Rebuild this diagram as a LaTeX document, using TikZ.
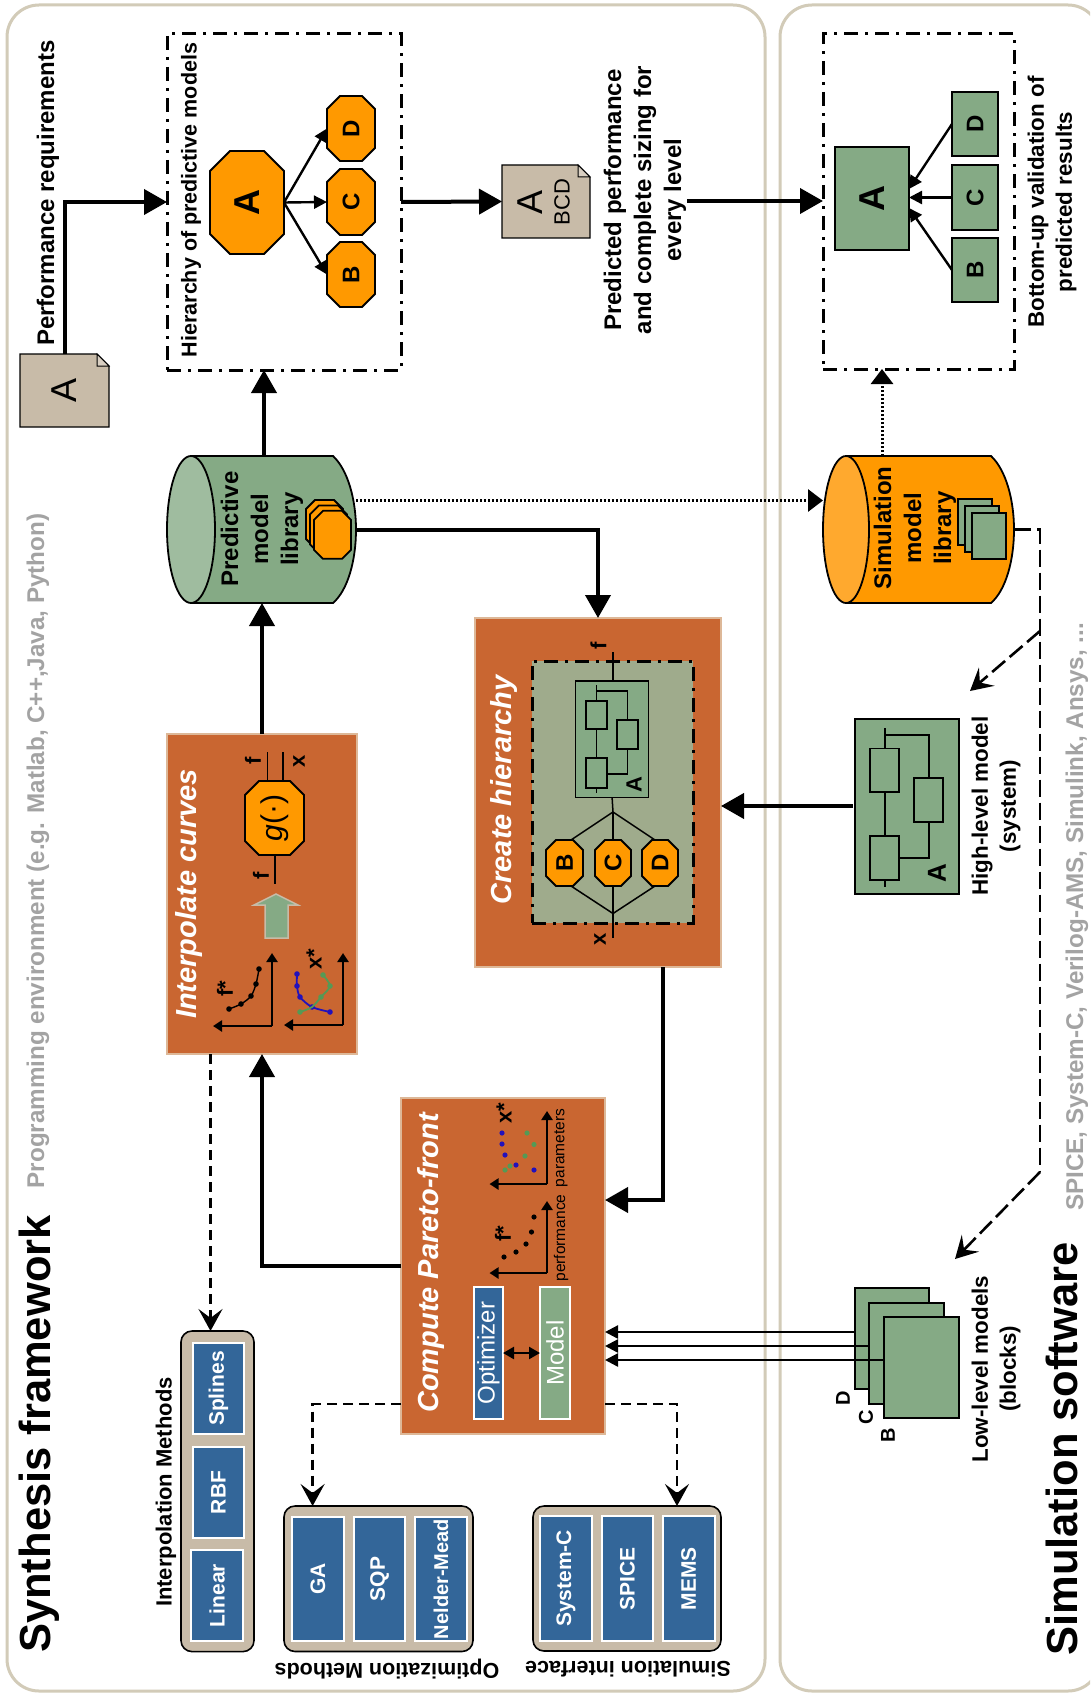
\documentclass[tikz,border=0pt]{standalone}
\usepackage{fontspec}
\setmainfont{Liberation Sans}
\usetikzlibrary{arrows.meta,calc}
\definecolor{panelc}{HTML}{D2CBB8}
\definecolor{tanc}{HTML}{C8BBA8}
\definecolor{orangec}{HTML}{FF9900}
\definecolor{orangecap}{HTML}{FFA92E}
\definecolor{greenc}{HTML}{85AA85}
\definecolor{greencap}{HTML}{9FBC9F}
\definecolor{rustc}{HTML}{C96631}
\definecolor{rustb}{HTML}{DDB898}
\definecolor{bluec}{HTML}{336699}
\definecolor{innerc}{HTML}{9FAB8C}
\definecolor{greyt}{HTML}{A3A3A3}
\definecolor{dotblue}{HTML}{2211BB}
\definecolor{dotgreen}{HTML}{559955}
\newcommand{\sz}[1]{\pgfmathsetmacro\myblk{#1*1.25}\fontsize{#1}{\myblk}\selectfont}
\newcommand{\rt}[1]{\rotatebox{90}{#1}}
\newcommand{\bx}[7]{%
  \pgfmathsetmacro\myw{#4-#2}\pgfmathsetmacro\myh{#5-#3}%
  \node[#6,minimum width=\myw pt,minimum height=\myh pt,inner sep=0pt,outer sep=0pt] (#1) at ({(#2+#4)/2},{(#3+#5)/2}) {#7};}
% octagon: name x1 y1 x2 y2 cut font text
\newcommand{\octa}[8]{%
  \pgfmathsetmacro\xa{#2+#6}\pgfmathsetmacro\xb{#4-#6}\pgfmathsetmacro\ya{#3+#6}\pgfmathsetmacro\yb{#5-#6}%
  \draw[octline] (\xa,#3)--(\xb,#3)--(#4,\ya)--(#4,\yb)--(\xb,#5)--(\xa,#5)--(#2,\yb)--(#2,\ya)--cycle;
  \bx{#1}{#2}{#3}{#4}{#5}{font=#7}{\rt{#8}}}
% document: name x1 y1 x2 y2 text
\newcommand{\docu}[6]{%
  \pgfmathsetmacro\xa{#4-12}\pgfmathsetmacro\ya{#3+12}%
  \draw[docline] (#2,#3)--(\xa,#3)--(#4,\ya)--(#4,#5)--(#2,#5)--cycle;
  \draw[line width=1pt,fill=tanc!70!white] (\xa,#3)--(\xa,\ya)--(#4,\ya)--cycle;
  \bx{#1}{#2}{#3}{#4}{#5}{}{#6}}
\tikzset{
  x=1pt,y=-1pt,
  octline/.style={draw=black,line width=1.8pt,fill=orangec},
  docline/.style={draw=black,line width=1.2pt,fill=tanc},
  panel/.style={draw=panelc,line width=3pt,rounded corners=32pt},
  dashbox/.style={draw=black,line width=3pt,dash pattern=on 14pt off 7pt on 3pt off 7pt},
  heavy/.style={line width=4pt,-{Triangle[length=23pt,width=25pt]}},
  thinar/.style={line width=2.4pt,-{Triangle[length=13pt,width=13pt]}},
  dashar/.style={line width=2.8pt,dash pattern=on 10pt off 6pt,-{Stealth[length=22pt,width=24pt,inset=9pt]}},
  simdash/.style={line width=2.6pt,dash pattern=on 17pt off 6pt,-{Stealth[length=22pt,width=24pt,inset=9pt]}},
  dotar/.style={line width=3pt,dash pattern=on 2pt off 2pt,-{Triangle[length=15pt,width=22pt]}},
  rust/.style={draw=rustb,line width=2pt,fill=rustc},
  grn/.style={draw=black,line width=1.8pt,fill=greenc},
  wire/.style={line width=1.5pt},
  vt/.style={rotate=90,inner sep=0pt,align=center},
  vb/.style={vt,font=\sz{22}\bfseries},
  head/.style={vt,text=white,font=\sz{29}\bfseries\itshape},
  title/.style={vt,font=\sz{43.5}\bfseries},
  greyl/.style={vt,text=greyt,font=\sz{24.2}\bfseries},
  method/.style={draw=white,line width=2pt,fill=bluec,text=white,font=\sz{21}\bfseries},
  group/.style={draw=black,line width=1.6pt,fill=tanc,rounded corners=11pt},
  axis/.style={line width=2.8pt,-{Triangle[length=9pt,width=11pt]}},
  sm/.style={vt,font=\sz{20}\bfseries},
}
\begin{document}
\begin{tikzpicture}
\useasboundingbox (0,0) rectangle (1090,1693);
\fill[white] (0,0) rectangle (1090,1693);
\clip (0,0) rectangle (1090,1693);
% panels
\draw[panel] (7,5) rectangle (765,1691);
\draw[panel] (780,5) rectangle (1100,1691);
% titles
\node[title] (tsyn) at (39,1434) {Synthesis framework};
\node[title] (tsim) at (1062,1449) {Simulation software};
\node[greyl] (tprog) at (38,851) {Programming environment (e.g. Matlab, C++,Java, Python)};
\node[greyl] (tspice) at (1077,917) {SPICE, System-C, Verilog-AMS, Simulink, Ansys, ...};
% hierarchy of predictive models
\docu{docA}{20}{354}{109}{427}{\rt{\sz{36}A}}
\node[vb,font=\sz{24}\bfseries] (lperf) at (48,193) {Performance requirements};
\bx{hier}{167}{34}{401}{370}{dashbox}{}
\node[vb,font=\sz{21.5}\bfseries] (lhier) at (191,200) {Hierarchy of predictive models};
\octa{oA}{210}{151}{284}{254}{20}{\sz{36}\bfseries}{A}
\octa{oD}{327}{96}{375}{161}{13}{\sz{24}\bfseries}{D}
\octa{oC}{327}{169}{375}{235}{13}{\sz{24}\bfseries}{C}
\octa{oB}{327}{242}{375}{307}{13}{\sz{24}\bfseries}{B}
\draw[thinar] (oA.east) -- (oD.west);
\draw[thinar] (oA.east) -- (oC.west);
\draw[thinar] (oA.east) -- (oB.west);
\docu{docB}{502}{165}{590}{238}{}
\node[vt,font=\sz{36}] (docBa) at (530,202) {A};
\node[vt,font=\sz{22}] (docBb) at (562,202) {BCD};
\draw[heavy] (docA.north) |- (hier.west);
\draw[heavy] (hier.east) -- (docB.west);
\node[vb,font=\sz{24}\bfseries] (lpred) at (645,200) {Predicted performance\\and complete sizing for\\every level};
% bottom-up box
\bx{valb}{823}{34}{1014}{369}{dashbox}{}
\bx{vA}{835}{147}{909}{250}{grn}{\rt{\sz{36}\bfseries A}}
\bx{vD}{952}{92}{998}{156}{grn}{\rt{\sz{24}\bfseries D}}
\bx{vC}{952}{165}{998}{230}{grn}{\rt{\sz{24}\bfseries C}}
\bx{vB}{952}{238}{998}{302}{grn}{\rt{\sz{24}\bfseries B}}
\draw[thinar] (vD.west) -- (909,189);
\draw[thinar] (vC.west) -- (vA.east |- vC.west);
\draw[thinar] (vB.west) -- (909,208);
\coordinate (pj) at (687,201);
\draw[heavy] (pj) -- (valb.west |- pj);
\node[vb,font=\sz{22.4}\bfseries] (lval) at (1052,202) {Bottom-up validation of\\predicted results};
% predictive library
\draw[draw=black,line width=1.8pt,fill=greenc] (191,456)--(333,456) .. controls (348,470) and (356,500) .. (356,529.5) .. controls (356,560) and (348,590) .. (333,603)--(191,603)--cycle;
\draw[draw=black,line width=1.8pt,fill=greencap] (191,529.5) ellipse [x radius=24,y radius=73.5];
\bx{plib}{167}{456}{356}{603}{}{}
\node[vt,font=\sz{24}\bfseries] (ptxt) at (262,529) {Predictive\\model\\library};
\foreach \d in {0,4,8}{
  \pgfmathsetmacro\ox{306+\d}\pgfmathsetmacro\oy{500+\d*1.35}
  \begin{scope}[shift={(\ox,\oy)}]
  \draw[octline] (9,0)--(28,0)--(37,9)--(37,39)--(28,48)--(9,48)--(0,39)--(0,9)--cycle;
  \end{scope}}
% simulation library
\draw[draw=black,line width=1.8pt,fill=orangec] (846,456)--(991,456) .. controls (1006,470) and (1014,500) .. (1014,529.5) .. controls (1014,560) and (1006,590) .. (991,603)--(846,603)--cycle;
\draw[draw=black,line width=1.8pt,fill=orangecap] (846,529.5) ellipse [x radius=23,y radius=73.5];
\bx{slib}{823}{456}{1014}{603}{}{}
\node[vt,font=\sz{24}\bfseries] (stxt) at (915,528) {Simulation\\model\\library};
\foreach \d in {0,7,14}{
  \pgfmathsetmacro\ox{958+\d}\pgfmathsetmacro\oy{499+\d}
  \draw[grn] (\ox,\oy) rectangle ++(34,46);}
\draw[heavy] ([xshift=2.5pt]plib.north) -- (hier.south -| 264,0);
\coordinate (sl1) at (882,456);
\draw[dotar] (sl1) -- (sl1 |- valb.south);
\draw[dotar] (plib.east |- 0,500.5) -- (slib.west |- 0,500.5);
% interpolate curves
\bx{interp}{167}{734}{357}{1054}{rust}{}
\node[head] (hint) at (189,894) {Interpolate curves};
\draw[heavy] (interp.north) -- (plib.south -| interp.north);
\node[vb] (lif) at (253,761) {f};
\node[vb] (lix) at (299,761) {x};
\octa{og}{245}{781}{304}{855}{14}{\sz{30}}{{\itshape g}(·)}
\draw[wire] (267.5,752) -- (267.5,781);
\draw[wire] (283,752) -- (283,781);
\draw[wire] (275,855) -- (275,884);
\node[vb] (lif2) at (261,876) {f};
\draw[draw=tanc,line width=1.5pt,fill=greenc] (276,894)--(298,905)--(288,905)--(288,938)--(265,938)--(265,905)--(254,905)--cycle;
\draw[axis] (272,1026) -- (272,953);
\draw[axis] (272,1026) -- (213,1026);
\draw[line width=1.4pt] plot[smooth] coordinates {(229,1009)(241,1004)(251,996)(256,984)(259,969)};
\foreach \p in {(229,1009),(241,1004),(251,996),(256,984),(259,969)} \fill \p circle (2.8);
\node[vb] (lifs) at (225,989) {f*};
\draw[axis] (343,1025) -- (343,953);
\draw[axis] (343,1025) -- (284,1025);
\draw[line width=1.8pt,dotblue] plot[smooth] coordinates {(297,974)(297,986)(300,997)(312,1007)(330,1012)};
\foreach \p in {(297,974),(297,986),(300,997),(312,1007),(330,1012)} \fill[dotblue] \p circle (2.8);
\draw[line width=1.8pt,dotgreen] plot[smooth] coordinates {(323,975)(330,986)(321,997)(312,1007)(300,1012)};
\foreach \p in {(323,975),(330,986),(321,997),(300,1012)} \fill[dotgreen] \p circle (2.8);
\node[vb] (lixs) at (314,959) {x*};
% create hierarchy
\bx{create}{475}{618}{721}{967}{rust}{}
\node[head] (hcre) at (504,790) {Create hierarchy};
\bx{cinner}{532}{661}{693}{923}{dashbox,fill=innerc}{}
\node[vb] (lcf) at (598.5,646) {f};
\node[vb] (lcx) at (600,939) {x};
\bx{cA}{575.6}{681}{648.6}{797.5}{draw=black,line width=1.6pt,fill=greenc}{}
\draw[wire] (596.6,685) -- (596.6,793);
\draw[wire] (596.6,691) -- (627.6,691) -- (627.6,720);
\draw[wire] (627.6,749) -- (627.6,774) -- (607,774);
\bx{cb1}{586}{701}{607}{729}{draw=black,line width=1.4pt,fill=greenc}{}
\bx{cb2}{586}{758}{607}{788}{draw=black,line width=1.4pt,fill=greenc}{}
\bx{cb3}{617}{720}{638}{749}{draw=black,line width=1.4pt,fill=greenc}{}
\node[vb] (lcA) at (634,785) {A};
\coordinate (cf) at (613,652);
\draw[wire] (cf) -- (cA.north -| cf);
\coordinate (dt) at (613,812);
\coordinate (db) at (613,913.5);
\coordinate (dx) at (613,937.5);
\draw[wire] (cA.south) -- (dt);
\draw[wire] (db) -- (dx);
\octa{cB}{546}{840}{583}{886}{10}{\sz{24}\bfseries}{B}
\octa{cC}{595}{840}{631}{886}{10}{\sz{24}\bfseries}{C}
\octa{cD}{642}{840}{678}{886}{10}{\sz{24}\bfseries}{D}
\draw[wire] (dt) -- (571,840);
\draw[wire] (dt) -- (cC.north);
\draw[wire] (dt) -- (655,840);
\draw[wire] (571,886) -- (db);
\draw[wire] (cC.south) -- (db);
\draw[wire] (655,886) -- (db);
\draw[heavy] (plib.east) -- (create.north |- plib.east) -- (create.north);
% pareto
\bx{pareto}{401}{1098}{605}{1434}{rust}{}
\node[head] (hpar) at (431,1263) {Compute Pareto-front};
\bx{opt}{474}{1287}{503}{1419}{draw=white,line width=1.5pt,fill=bluec,text=white,font=\sz{24}}{\rt{Optimizer}}
\bx{mod}{540}{1287}{570}{1419}{draw=white,line width=1.5pt,fill=greenc,text=white,font=\sz{24}}{\rt{Model}}
\draw[line width=2.4pt,{Triangle[length=11pt,width=12pt]}-{Triangle[length=11pt,width=12pt]}] (opt.east |- 0,1353) -- (mod.west |- 0,1353);
\draw[axis] (547,1273) -- (547,1201);
\draw[axis] (547,1273) -- (489.5,1273);
\foreach \p in {(504,1257),(516,1252),(526,1244),(531.5,1232),(534,1217)} \fill \p circle (2.6);
\node[vb] (lpfs) at (503,1234) {f*};
\node[vt,font=\sz{15.5}] (lperfm) at (561,1238) {performance};
\draw[axis] (547,1184) -- (547,1111);
\draw[axis] (547,1184) -- (489.5,1184);
\foreach \p in {(502,1133),(502,1144),(505,1155),(516,1165),(534,1170)} \fill[dotblue] \p circle (2.6);
\foreach \p in {(527,1133),(534,1144.5),(525,1156),(510,1166),(505,1170)} \fill[dotgreen] \p circle (2.6);
\node[vb] (lpxs) at (504,1113) {x*};
\node[vt,font=\sz{15.5}] (lparm) at (561,1148) {parameters};
\coordinate (cp) at (663,1200);
\draw[heavy] (create.south -| cp) -- (cp) -- (pareto.east |- cp);
\draw[heavy] (pareto.west |- 0,1266) -- (interp.south |- 0,1266) -- (interp.south);
% interpolation methods
\bx{gint}{181}{1331}{254}{1651.6}{group}{}
\bx{mspl}{193}{1343}{244}{1434}{method}{\rt{Splines}}
\bx{mrbf}{193}{1447}{244}{1538}{method}{\rt{RBF}}
\bx{mlin}{191}{1550}{243}{1641}{method}{\rt{Linear}}
\node[vb,font=\sz{22}\bfseries] (lgint) at (166,1492) {Interpolation Methods};
\coordinate (di) at (210.5,1054);
\draw[dashar] (di) -- (gint.north -| di);
% optimization methods
\bx{gopt}{284}{1506}{473}{1651.5}{group}{}
\bx{mga}{292}{1517}{344}{1641}{method}{\rt{GA}}
\bx{msqp}{354}{1517}{405}{1641}{method}{\rt{SQP}}
\bx{mnm}{415}{1517}{467}{1641}{method,font=\sz{20}\bfseries}{\rt{Nelder-Mead}}
\node[inner sep=0pt,rotate=180,font=\sz{21.5}\bfseries] (lgopt) at (387,1669) {Optimization Methods};
\coordinate (dg) at (312.6,1404);
\draw[dashar] (pareto.west |- dg) -- (dg) -- (gopt.north -| dg);
% simulation interface
\bx{gsim}{533}{1506}{721}{1651}{group}{}
\bx{msys}{540}{1516}{592}{1641}{method}{\rt{System-C}}
\bx{mspi}{601.6}{1516}{653}{1641}{method}{\rt{SPICE}}
\bx{mmem}{663}{1516}{714.5}{1641}{method}{\rt{MEMS}}
\node[inner sep=0pt,rotate=180,font=\sz{21.5}\bfseries] (lgsim) at (628,1669) {Simulation interface};
\coordinate (ds) at (677,1404);
\draw[dashar] (pareto.east |- ds) -- (ds) -- (gsim.north -| ds);
% high-level model
\bx{hl}{855}{719}{959}{894}{grn}{}
\draw[wire] (885,728) -- (885,887);
\draw[wire] (885,735) -- (929,735) -- (929,778);
\draw[wire] (929,822) -- (929,858) -- (899,858);
\bx{hb1}{870}{748.5}{899}{792}{draw=black,line width=1.4pt,fill=greenc}{}
\bx{hb2}{870}{836}{899}{880}{draw=black,line width=1.4pt,fill=greenc}{}
\bx{hb3}{914}{778}{943}{822}{draw=black,line width=1.4pt,fill=greenc}{}
\node[vb,font=\sz{26}\bfseries] (lhA) at (937,873) {A};
\node[vb,font=\sz{22.4}\bfseries] (lhl) at (996,806) {High-level model\\(system)};
\draw[heavy] ([xshift=-2pt]hl.west |- 0,806) -- (create.east |- 0,806);
% low-level models
\bx{lld}{855}{1288}{929}{1389}{grn}{}
\bx{llc}{869}{1303}{944}{1404}{grn}{}
\bx{llb}{884}{1317}{959}{1418}{grn}{}
\node[sm] (lld2) at (843,1398) {D};
\node[sm] (llc2) at (866,1417) {C};
\node[sm] (llb2) at (888,1435) {B};
\node[vb,font=\sz{22.4}\bfseries] (lll) at (996,1369) {Low-level models\\(blocks)};
\draw[thinar] (lld.west |- 0,1332) -- (pareto.east |- 0,1332);
\draw[thinar] (llc.west |- 0,1346) -- (pareto.east |- 0,1346);
\draw[thinar] (llb.west |- 0,1360) -- (pareto.east |- 0,1360);
% dashed simulation links
\coordinate (sa) at (1040,529.5);
\coordinate (sb) at (1040,1172);
\draw[line width=2.6pt,dash pattern=on 17pt off 6pt] (slib.east) -- (sa) -- (sb);
\coordinate (sc) at (1040,631);
\coordinate (hltip) at (970,691);
\coordinate (lltip) at (955,1259);
\draw[simdash] (sc) -- (hltip);
\draw[simdash] (sb) -- (lltip);
\end{tikzpicture}
\end{document}
